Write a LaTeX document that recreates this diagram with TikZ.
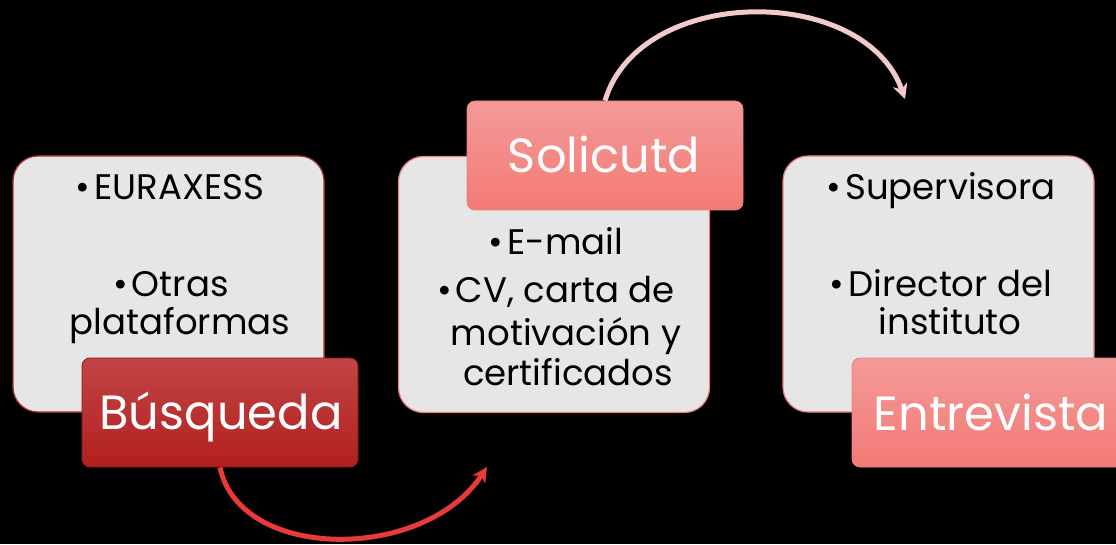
\documentclass[tikz,border=0pt]{standalone}
\usepackage{fontspec}
\setmainfont{Poppins}
\usetikzlibrary{arrows.meta}
\definecolor{boxgray}{HTML}{E6E6E6}
\definecolor{darkborder}{HTML}{B03030}
\definecolor{lightborder}{HTML}{E88080}
\definecolor{darktop}{HTML}{C24545}
\definecolor{darkbot}{HTML}{B21F1F}
\definecolor{lighttop}{HTML}{F39A98}
\definecolor{lightbot}{HTML}{F37A75}
\definecolor{arrowred}{HTML}{E83A3A}
\definecolor{arrowpink}{HTML}{F2CACA}
\newcommand{\bul}{\textbullet\kern4pt}
\tikzset{
  infobox/.style={draw, line width=1.2pt, fill=boxgray, rounded corners=25pt,
    minimum width=311pt, minimum height=256pt, inner sep=0pt},
  darktitle/.style={draw=darkbot!80!black, line width=0.8pt, top color=darktop, bottom color=darkbot,
    rounded corners=8pt, minimum width=276pt, minimum height=109pt, inner sep=0pt},
  lighttitle/.style={draw=lightborder, line width=0.8pt, top color=lighttop, bottom color=lightbot,
    rounded corners=8pt, minimum width=276pt, minimum height=109pt, inner sep=0pt},
  itemtext/.style={anchor=base, inner sep=0pt, text=black, font=\fontsize{35.5}{40}\selectfont},
  titletext/.style={anchor=base, inner sep=0pt, text=white, font=\fontsize{48}{52}\selectfont},
  flow/.style={line width=5pt, -{Stealth[length=15pt,width=15pt]}},
}
\begin{document}
\begin{tikzpicture}[x=1pt,y=1pt]
\fill[black] (0,0) rectangle (1116,544);
\useasboundingbox (0,0) rectangle (1116,544);
% content boxes
\node[infobox, draw=darkborder] (box1) at (168.5,260) {};
\node[infobox, draw=lightborder] (box2) at (554,259.5) {};
\node[infobox, draw=lightborder] (box3) at (938.5,260) {};
% title boxes
\node[darktitle] (busq) at (220,131.5) {};
\node[lighttitle] (solic) at (605,388.5) {};
\node[lighttitle] (entre) at (990,131.5) {};
% titles
\node[titletext] (busqt) at (221,115) {Búsqueda};
\node[titletext] (solict) at (604,371) {Solicutd};
\node[titletext] (entret) at (991,114) {Entrevista};
% box 1 text
\node[itemtext] (t1a) at (170,344) {\bul EURAXESS};
\node[itemtext] (t1b) at (171,247) {\bul Otras};
\node[itemtext] (t1c) at (180,209) {plataformas};
% box 2 text
\node[itemtext] (t2a) at (556,289) {\bul E-mail};
\node[itemtext] (t2b) at (556,241) {\bul CV, carta de};
\node[itemtext] (t2c) at (566,199) {motivación y};
\node[itemtext] (t2d) at (568,159) {certificados};
% box 3 text
\node[itemtext] (t3a) at (941,344) {\bul Supervisora};
\node[itemtext] (t3b) at (941,247) {\bul Director del};
\node[itemtext] (t3c) at (950,209) {instituto};
% arrows
\coordinate (end1) at (487,77);
\coordinate (end2) at (905,445);
\draw[flow, arrowred] (busq.south) .. controls (240,-18) and (425,-18) .. (end1);
\draw[flow, arrowpink] (solic.north) .. controls (640,560) and (865,560) .. (end2);
\end{tikzpicture}
\end{document}
